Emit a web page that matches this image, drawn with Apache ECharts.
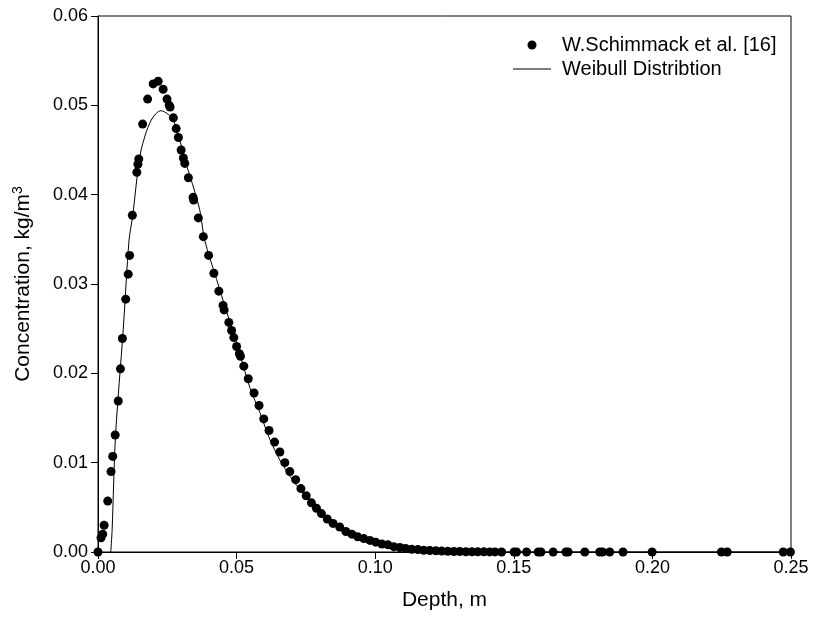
<!DOCTYPE html>
<html>
<head>
<meta charset="utf-8">
<script src="https://cdn.jsdelivr.net/npm/echarts@6/dist/echarts.min.js"></script>
<style>html,body{margin:0;padding:0;background:#fff}#c{width:813px;height:637px}</style>
</head>
<body>
<div id="c"></div>
<script>
// Measured data (Depth in m, Concentration in kg/m^3)
const obsDepth = [0.0000,0.0011,0.0017,0.0022,0.0035,0.0047,0.0053,0.0062,0.0073,0.0081,0.0088,0.0100,0.0109,0.0114,0.0124,0.0140,0.0144,0.0147,0.0161,0.0179,0.0199,0.0217,0.0235,0.0249,0.0257,0.0260,0.0272,0.0282,0.0290,0.0300,0.0308,0.0313,0.0326,0.0343,0.0345,0.0362,0.0380,0.0399,0.0418,0.0436,0.0451,0.0455,0.0472,0.0482,0.0490,0.0500,0.0510,0.0514,0.0526,0.0542,0.0563,0.0581,0.0598,0.0617,0.0637,0.0656,0.0674,0.0692,0.0713,0.0732,0.0751,0.0770,0.0788,0.0806,0.0827,0.0848,0.0872,0.0894,0.0916,0.0937,0.0959,0.0981,0.1002,0.1024,0.1046,0.1067,0.1089,0.1110,0.1132,0.1154,0.1175,0.1197,0.1219,0.1240,0.1262,0.1284,0.1305,0.1327,0.1349,0.1370,0.1392,0.1413,0.1432,0.1456,0.1501,0.1510,0.1546,0.1588,0.1598,0.1642,0.1688,0.1696,0.1756,0.1810,0.1820,0.1846,0.1894,0.1999,0.2249,0.2270,0.2472,0.2498];
const obsConc = [0.0000,0.0016,0.0020,0.0030,0.0057,0.0090,0.0107,0.0131,0.0169,0.0205,0.0239,0.0283,0.0311,0.0332,0.0377,0.0425,0.0434,0.0440,0.0479,0.0507,0.0524,0.0527,0.0518,0.0507,0.0500,0.0498,0.0486,0.0474,0.0464,0.0450,0.0441,0.0435,0.0419,0.0397,0.0394,0.0374,0.0353,0.0332,0.0312,0.0292,0.0276,0.0271,0.0257,0.0248,0.0240,0.0230,0.0222,0.0219,0.0208,0.0194,0.0178,0.0164,0.0149,0.0136,0.0123,0.0112,0.0100,0.0090,0.0081,0.0071,0.0063,0.0055,0.0049,0.0043,0.0037,0.0032,0.0028,0.0023,0.0020,0.0017,0.0015,0.0013,0.0011,0.0009,0.0008,0.0006,0.0005,0.0004,0.0003,0.00027,0.0002,0.00017,0.00013,0.0001,0.00008,0.00006,0.00005,0.00003,0.00003,0.00002,0.00002,0.00001,0.00001,0,0,0,0,0,0,0,0,0,0,0,0,0,0,0,0,0,0,0];
// Weibull curve
const fitDepth = [0.0046,0.0051,0.0063,0.0091,0.0112,0.0125,0.0151,0.0175,0.0199,0.0227,0.0253,0.0271,0.0295,0.0319,0.0331,0.0367,0.0385,0.0428,0.0464,0.0500,0.0548,0.0584,0.0620,0.0656,0.0692,0.0728,0.0764,0.0800,0.0848,0.0897,0.0945,0.1017,0.1089,0.1197,0.1341,0.2500];
const fitConc = [0.0000,0.0025,0.0129,0.0249,0.0349,0.0376,0.0443,0.0471,0.0487,0.0494,0.0490,0.0484,0.0461,0.0433,0.0422,0.0383,0.0349,0.0305,0.0269,0.0234,0.0184,0.0156,0.0126,0.0103,0.0085,0.0070,0.0057,0.0045,0.0034,0.0025,0.0017,0.0009,0.0005,0.00015,0.00001,0.0000];
const xTicks = {min:0, max:0.25, interval:0.05};
const yTicks = {min:0, max:0.06, interval:0.01};
const obsName = 'W.Schimmack et al. [16]';
const fitName = 'Weibull Distribtion';

const chart = echarts.init(document.getElementById('c'), null, {renderer:'canvas'});
const font = 'Arial, "Liberation Sans", sans-serif';
chart.setOption({
  animation:false,
  backgroundColor:'#fff',
  grid:{left:98,right:22,top:16,bottom:85,show:true,borderColor:'#000',borderWidth:1,backgroundColor:'transparent'},
  legend:{
    orient:'vertical', left:508, top:30, itemWidth:38, itemHeight:9, itemGap:4,
    textStyle:{fontFamily:font,fontSize:20,color:'#000',padding:[0,0,0,6]},
    data:[
      {name:obsName,icon:'circle',itemStyle:{color:'#000',opacity:1}},
      {name:fitName,icon:'path://M0,0L38,0L38,1L0,1Z',itemStyle:{color:'#000'}}
    ]
  },
  xAxis:{
    type:'value', min:xTicks.min, max:xTicks.max, interval:xTicks.interval,
    name:'Depth, m', nameLocation:'middle', nameGap:38,
    nameTextStyle:{fontFamily:font,fontSize:21,color:'#000'},
    axisLine:{onZero:false,lineStyle:{color:'#000',width:1}},
    axisTick:{show:true,inside:false,length:7,lineStyle:{color:'#000'}},
    axisLabel:{fontFamily:font,fontSize:18,color:'#000',margin:7,formatter:v=>v.toFixed(2)},
    splitLine:{show:false}
  },
  yAxis:{
    type:'value', min:yTicks.min, max:yTicks.max, interval:yTicks.interval,
    name:'{a|Concentration, kg/m}{s|3}', nameLocation:'middle', nameGap:63, nameRotate:90,
    nameTextStyle:{fontFamily:font,fontSize:21,color:'#000',
      rich:{a:{fontFamily:font,fontSize:21,color:'#000'},s:{fontFamily:font,fontSize:14,color:'#000',verticalAlign:'top',padding:[0,0,10,0]}}},
    axisLine:{onZero:false,lineStyle:{color:'#000',width:1}},
    axisTick:{show:true,inside:false,length:7,lineStyle:{color:'#000'}},
    axisLabel:{fontFamily:font,fontSize:18,color:'#000',margin:10,formatter:v=>v.toFixed(2)},
    splitLine:{show:false}
  },
  series:[
    {name:fitName,type:'line',data:fitDepth.map((d,i)=>[d,fitConc[i]]),showSymbol:false,symbol:'none',
     lineStyle:{color:'#000',width:1},itemStyle:{color:'#000'},z:2,smooth:0.3},
    {name:obsName,type:'scatter',data:obsDepth.map((d,i)=>[d,obsConc[i]]),symbol:'circle',symbolSize:9,
     itemStyle:{color:'#000',opacity:1},z:3}
  ]
});
</script>
</body>
</html>
